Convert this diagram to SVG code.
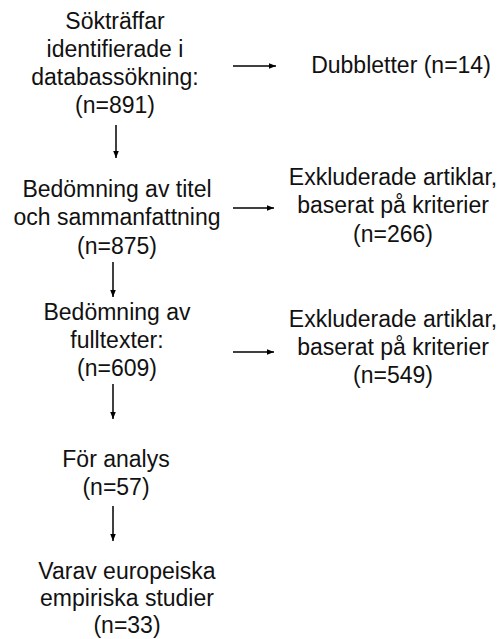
<svg xmlns="http://www.w3.org/2000/svg" width="504" height="639" viewBox="0 0 504 639">
<defs>
<marker id="ah" viewBox="0 0 10 10" refX="10" refY="5" markerWidth="7" markerHeight="7" markerUnits="userSpaceOnUse" orient="auto">
<path d="M0,1 L10,5 L0,9 z" fill="#000"/>
</marker>
</defs>
<style>
text{font-family:"Liberation Sans",Arial,sans-serif;font-size:23px;fill:#111;text-anchor:middle}
.c{stroke:#000;stroke-width:1.5;fill:none;marker-end:url(#ah)}
</style>
<rect width="504" height="639" fill="#fff"/>
<g id="n1"><text x="115" y="29">Sökträffar</text><text x="115" y="57">identifierade i</text><text x="115" y="85">databassökning:</text><text x="115" y="113">(n=891)</text></g>
<g id="d1"><text x="401" y="73">Dubbletter (n=14)</text></g>
<g id="n2"><text x="117" y="197">Bedömning av titel</text><text x="117" y="225">och sammanfattning</text><text x="117" y="254">(n=875)</text></g>
<g id="e1"><text x="393" y="185">Exkluderade artiklar,</text><text x="393" y="213">baserat på kriterier</text><text x="393" y="242">(n=266)</text></g>
<g id="n3"><text x="117" y="320">Bedömning av</text><text x="117" y="348">fulltexter:</text><text x="117" y="376">(n=609)</text></g>
<g id="e2"><text x="393" y="327">Exkluderade artiklar,</text><text x="393" y="355">baserat på kriterier</text><text x="393" y="383">(n=549)</text></g>
<g id="n4"><text x="116" y="467">För analys</text><text x="116" y="495">(n=57)</text></g>
<g id="n5"><text x="127" y="579">Varav europeiska</text><text x="127" y="606">empiriska studier</text><text x="127" y="633">(n=33)</text></g>
<g id="connectors">
<line class="c" x1="233" y1="66" x2="276" y2="66"/>
<line class="c" x1="116" y1="125" x2="116" y2="158"/>
<line class="c" x1="233" y1="208" x2="274" y2="208"/>
<line class="c" x1="113" y1="262" x2="113" y2="297"/>
<line class="c" x1="233" y1="352" x2="274" y2="352"/>
<line class="c" x1="113" y1="384" x2="113" y2="419"/>
<line class="c" x1="113" y1="506" x2="113" y2="541"/>
</g>
</svg>
